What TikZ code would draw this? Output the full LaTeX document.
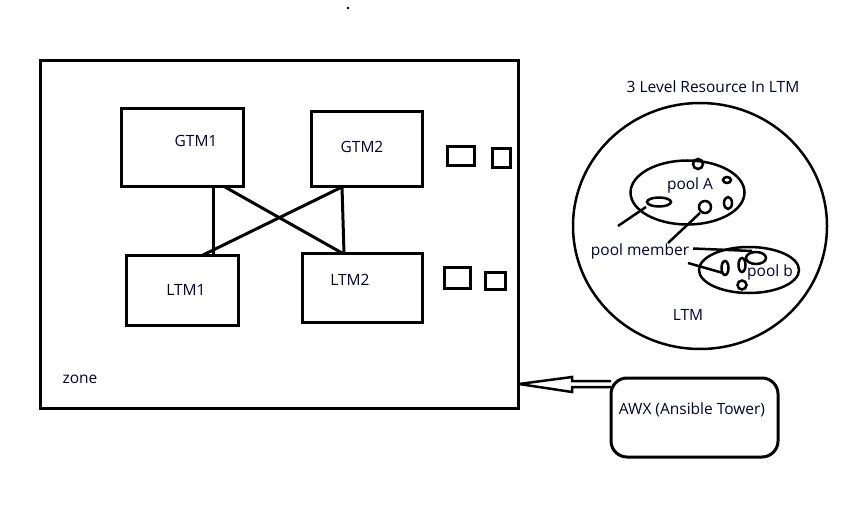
\documentclass[tikz,border=0pt]{standalone}
\usepackage{fontspec}
\setmainfont{Open Sans}
\begin{document}
\begin{tikzpicture}[x=1pt,y=-1pt,
  box/.style={draw,line width=3pt,inner sep=0pt,outer sep=0pt},
  lbl/.style={inner sep=0pt,font=\fontsize{15.5}{18}\selectfont,text=black!80!blue},
  ln/.style={line width=3pt},
  thin/.style={line width=2.5pt}]
\useasboundingbox (0,0) rectangle (864,505);
% zone
\node[box,minimum width=478pt,minimum height=347pt] (zone) at (279,234.5) {};
\node[lbl] (zonet) at (80,379) {zone};
% GTM / LTM boxes
\node[box,minimum width=122pt,minimum height=78pt] (g1) at (182,148) {};
\node[box,minimum width=111pt,minimum height=75pt] (g2) at (366.5,149.5) {};
\node[box,minimum width=112pt,minimum height=70pt] (l1) at (182,290) {};
\node[box,minimum width=120pt,minimum height=69pt] (l2) at (362,287.5) {};
\node[lbl] (g1t) at (196,141) {GTM1};
\node[lbl] (g2t) at (362,147) {GTM2};
\node[lbl] (l1t) at (186,290) {LTM1};
\node[lbl] (l2t) at (350,280) {LTM2};
% connectors
\draw[ln] ([xshift=92pt]g1.south west) -- ([xshift=87pt]l1.north west);
\draw[ln] ([xshift=104pt]g1.south west) -- ([xshift=40pt]l2.north west);
\draw[ln] ([xshift=31pt]g2.south west) -- ([xshift=77pt]l1.north west);
\draw[ln] ([xshift=31pt]g2.south west) -- ([xshift=42pt]l2.north west);
% small squares
\node[box,minimum width=27pt,minimum height=19pt] (s1) at (460.5,156.5) {};
\node[box,minimum width=18pt,minimum height=19pt] (s2) at (501,158.5) {};
\node[box,minimum width=26pt,minimum height=21pt] (s3) at (457,277.5) {};
\node[box,minimum width=20pt,minimum height=17pt] (s4) at (495,280.5) {};
% top dot
\fill (348,8) circle (1.3pt);
% LTM circle
\node[lbl] (title) at (713,87) {3 Level Resource In LTM};
\draw[thin] (700,226) ellipse (127pt and 123pt);
\node[lbl] (ltmt) at (688,315) {LTM};
% pool A
\draw[thin] (687.5,192.5) ellipse (57pt and 32pt);
\node[lbl] (pa) at (690,185) {pool A};
\draw[thin] (698,164) circle (5pt);
\draw[thin] (727,180) ellipse (4pt and 3pt);
\draw[thin] (659,202) ellipse (12pt and 4.5pt);
\draw[thin] (705,207) circle (6pt);
\draw[thin] (728,203) ellipse (4pt and 6pt);
\draw[thin] (618,226) -- (646,207);
\draw[thin] (668,243) -- (700,213);
\node[lbl] (pm) at (640,251) {pool member};
% pool b
\draw[thin] (749,270) ellipse (50pt and 23pt);
\node[lbl] (pb) at (770,272) {pool b};
\draw[thin] (693,248.5) -- (752,251);
\draw[thin] (756,258) ellipse (10pt and 6pt);
\draw[thin] (688,263) -- (723,273);
\draw[thin] (725,268) ellipse (3.5pt and 7pt);
\draw[thin] (742,265) ellipse (3.5pt and 7pt);
\draw[thin] (742,285) circle (4.5pt);
% AWX
\node[box,rounded corners=16pt,minimum width=167pt,minimum height=79pt] (awx) at (694.5,417.5) {};
\node[lbl] (awxt) at (692,410) {AWX (Ansible Tower)};
% hollow arrow
\coordinate (tip) at (zone.east |- 0,384);
\draw[line width=2.5pt,line join=miter] ([xshift=1pt]tip) -- (572,377) -- (572,381) -- (awx.north west |- 0,381)
  ([xshift=1pt]tip) -- (572,392) -- (572,387) -- (awx.north west |- 0,387);
\end{tikzpicture}
\end{document}
